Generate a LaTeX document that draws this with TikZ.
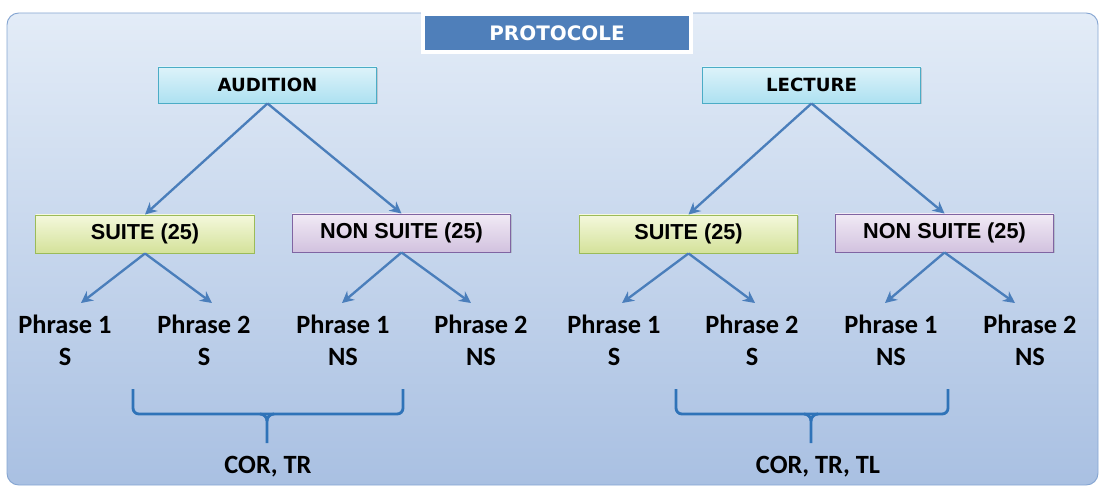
\documentclass[tikz,border=0pt]{standalone}
\usepackage{fontspec}
\setmainfont{Carlito}
\newfontfamily\titrefont{DejaVu Sans}
\newfontfamily\boitefont{Liberation Sans}
\usepackage{tikz}
\usetikzlibrary{calc, arrows.meta, shadows, positioning}
\definecolor{fondhaut}{HTML}{E3ECF7}
\definecolor{fondbas}{HTML}{A9C0E2}
\definecolor{bordfond}{HTML}{86A6D2}
\definecolor{titrebleu}{HTML}{4F7FBA}
\definecolor{cyanhaut}{HTML}{DDF3FA}
\definecolor{cyanbas}{HTML}{ADE1F1}
\definecolor{bordcyan}{HTML}{4BACC6}
\definecolor{verthaut}{HTML}{F4F8DC}
\definecolor{vertbas}{HTML}{D4E29A}
\definecolor{bordvert}{HTML}{9BBB59}
\definecolor{violethaut}{HTML}{F1EAF5}
\definecolor{violetbas}{HTML}{D2C2DF}
\definecolor{bordviolet}{HTML}{8064A2}
\definecolor{bleufleche}{HTML}{4A7EBB}
\definecolor{bleuaccolade}{HTML}{2F73B8}

\begin{document}
\begin{tikzpicture}[x=.03cm, y=-.03cm,
    boite/.style={line width=.8pt, minimum width=6.56cm, inner sep=0pt,
      drop shadow={shadow xshift=.6pt, shadow yshift=-1.2pt, opacity=.3}},
    haut/.style={boite, draw=bordcyan, top color=cyanhaut, bottom color=cyanbas,
      minimum height=1.08cm, font=\titrefont\bfseries\fontsize{15.5}{18}\selectfont},
    suite/.style={boite, draw=bordvert, top color=verthaut, bottom color=vertbas,
      minimum height=1.14cm, font=\boitefont\bfseries\fontsize{18.5}{21}\selectfont},
    nonsuite/.style={suite, draw=bordviolet, top color=violethaut, bottom color=violetbas},
    phrase/.style={align=center, inner sep=0pt, font=\bfseries\fontsize{22.5}{27.2}\selectfont},
    fleche/.style={draw=bleufleche, line width=2pt, -{Stealth[length=10pt, width=10pt]}},
    accolade/.style={draw=bleuaccolade, line width=2.4pt, rounded corners=5pt}]
  \useasboundingbox (0,0) rectangle (1101,487);
  \shade[top color=fondhaut, bottom color=fondbas, draw=bordfond, line width=.8pt,
    rounded corners=10pt] (7,13) rectangle (1098,485);
  \node[draw=white, line width=3.5pt, fill=titrebleu, minimum width=8.04cm,
    minimum height=1.14cm, text=white, font=\titrefont\bfseries\fontsize{17}{20}\selectfont,
    drop shadow={shadow xshift=.6pt, shadow yshift=-1.2pt, opacity=.3}] (protocole) at (557,33) {PROTOCOLE};

  \node[haut] (audition) at (267.5,85) {AUDITION};
  \node[haut] (lecture) at (811.5,85) {LECTURE};
  \node[suite] (suiteA) at (145,234) {SUITE (25)};
  \node[nonsuite] (nonA) at (401.5,233) {NON SUITE (25)};
  \node[suite] (suiteB) at (688.5,234) {SUITE (25)};
  \node[nonsuite] (nonB) at (944.5,233) {NON SUITE (25)};

  \draw[fleche] (audition.south) -- (suiteA.north);
  \draw[fleche] (audition.south) -- (nonA.north);
  \draw[fleche] (lecture.south) -- (suiteB.north);
  \draw[fleche] (lecture.south) -- (nonB.north);

  \foreach \nom/\x/\num/\suf in {pA1/65/1/S, pA2/204/2/S, pA3/343/1/NS, pA4/481/2/NS,
      pB1/614/1/S, pB2/752/2/S, pB3/891/1/NS, pB4/1030/2/NS}{
    \node[phrase] (\nom) at (\x,340) {Phrase \num\\\suf};
  }
  \foreach \src/\tip/\x in {suiteA/tA1/81, suiteA/tA2/212, nonA/tA3/342, nonA/tA4/471,
      suiteB/tB1/622, suiteB/tB2/755, nonB/tB3/885, nonB/tB4/1015}{
    \coordinate (\tip) at (\x,303);
    \draw[fleche] (\src.south) -- (\tip);
  }

  \draw[accolade] (133,389) |- (403,414) -- (403,389);
  \draw[accolade, rounded corners=0pt] (260,414) to[out=0, in=90] (267,421) -- (267,443);
  \draw[accolade, rounded corners=0pt] (274,414) to[out=180, in=90] (267,421);
  \node[phrase, anchor=base] (corA) at (268,473) {COR, TR};

  \draw[accolade] (676,389) |- (948,414) -- (948,389);
  \draw[accolade, rounded corners=0pt] (804,414) to[out=0, in=90] (811,421) -- (811,443);
  \draw[accolade, rounded corners=0pt] (818,414) to[out=180, in=90] (811,421);
  \node[phrase, anchor=base] (corB) at (818,473) {COR, TR, TL};
\end{tikzpicture}
\end{document}
